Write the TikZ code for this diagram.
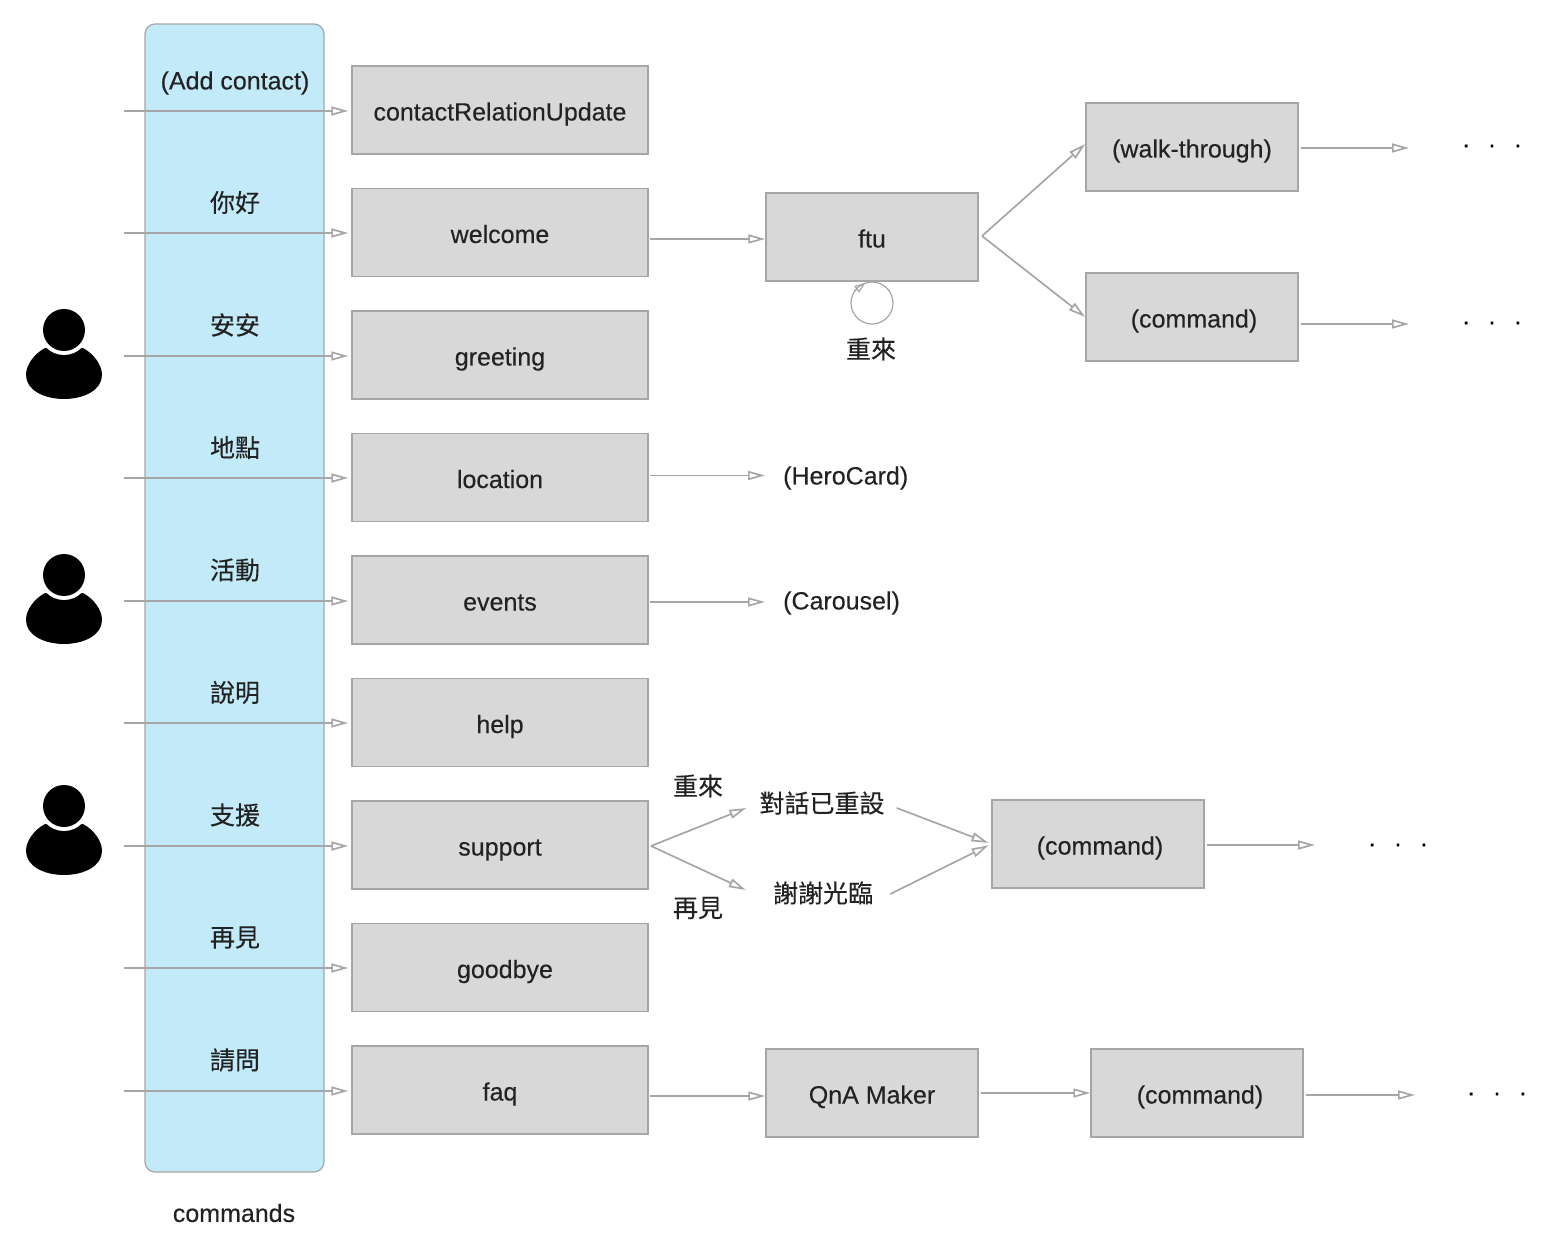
\documentclass[tikz,border=0pt]{standalone}
\usepackage{fontspec}
\setmainfont[FakeBold=0.25]{Liberation Sans}
\newfontfamily\cjk[FakeBold=0.2]{Noto Sans CJK TC}
\usepackage{tikz}
\usetikzlibrary{calc,positioning,arrows.meta}
\definecolor{linegray}{RGB}{166,166,166}
\definecolor{boxgray}{RGB}{216,216,216}
\definecolor{cmdblue}{RGB}{195,234,248}
\definecolor{textblack}{RGB}{34,34,34}

\begin{document}
\begin{tikzpicture}[x=1pt,y=-1pt,font=\fontsize{25}{30}\selectfont,text=textblack]
  \tikzset{
    stepbox/.style={rectangle,draw=linegray,fill=boxgray,line width=1.5pt,inner sep=0pt,
      minimum width=296pt,minimum height=88pt,text height=24pt,text depth=3pt},
    smallbox/.style={stepbox,minimum width=212pt},
    plain/.style={inner sep=0pt},
    cjklabel/.style={plain,font=\cjk\fontsize{25}{30}\selectfont},
    flow/.style={draw=linegray,line width=1.7pt,-{Triangle[open,length=17pt,width=9pt]}},
    dots/.style={plain,text=black},
    person/.pic={
      \fill[black] (-19,18) .. controls (-30,24) and (-38,35) .. (-38,45)
        .. controls (-38,60) and (-20,69) .. (0,69)
        .. controls (20,69) and (38,60) .. (38,45)
        .. controls (38,35) and (30,24) .. (19,18) -- cycle;
      \fill[white] (0,0) circle (25pt);
      \fill[black] (0,0) circle (21pt);
    },
  }
  \useasboundingbox (0,0) rectangle (1548,1238);

  % command column
  \node[rectangle,rounded corners=10pt,draw=linegray,fill=cmdblue,line width=1.2pt,
    minimum width=179pt,minimum height=1148pt,inner sep=0pt] (cmds) at (234.5,598) {};
  \node[plain] (cmdsname) at (234,1213) {commands};

  % one row per command
  \foreach \cmdtext/\nm/\nudge [count=\i from 0] in {
      {\rule{0pt}{24pt}(Add contact)}/contactRelationUpdate/0pt,
      {\cjk 你好}/welcome/0pt,
      {\cjk 安安}/greeting/0pt,
      {\cjk 地點}/location/0pt,
      {\cjk 活動}/events/0pt,
      {\cjk 說明}/help/0pt,
      {\cjk 支援}/support/0pt,
      {\cjk 再見}/goodbye/10pt,
      {\cjk 請問}/faq/0pt} {
    \pgfmathsetmacro{\rowy}{110+122.5*\i}
    \pgfmathsetmacro{\arrowy}{round(\rowy+0.6)}
    \node[stepbox] (\nm) at (500,\rowy) {\hspace*{\nudge}\nm};
    \node[plain] (cmd\i) at (235,\rowy-30) {\cmdtext};
    \coordinate (in\i) at (124,\arrowy);
    \draw[flow,shorten >=3pt] (in\i) -- (in\i -| \nm.west);
  }

  % users
  \pic at (64,330) {person};
  \pic at (64,575) {person};
  \pic at (64,806) {person};

  % welcome branch
  \node[smallbox] (ftu) at (872,237) {ftu};
  \node[smallbox] (walk) at (1192,147) {(walk-through)};
  \node[smallbox] (cmdA) at (1192,317) {\hspace*{4pt}(command)};
  \node[plain,circle,minimum size=42pt] (loop) at (872,303) {};
  \node[cjklabel] (again) at (871,349) {重來};
  \node[dots] (dotsA) at (1492,146) {.\hspace{19pt}.\hspace{19pt}.};
  \node[dots] (dotsB) at (1492,323) {.\hspace{19pt}.\hspace{19pt}.};
  \coordinate (fanA) at (982,236);
  \coordinate (walkend) at (1409,148);
  \coordinate (cmdAend) at (1409,324);

  \draw[flow,shorten <=1.5pt] ([yshift=-6.5pt]welcome.east) -- ([yshift=-2pt]ftu.west);
  \draw[flow] (fanA) -- ([yshift=3pt]walk.west);
  \draw[flow] (fanA) -- (cmdA.west);
  \draw[flow,shorten <=2pt] (walk.east |- walkend) -- (walkend);
  \draw[flow,shorten <=2pt] (cmdA.east |- cmdAend) -- (cmdAend);
  \draw[draw=linegray,line width=1.2pt] (loop) circle (21pt);
  \draw[flow,line width=1.2pt,-{Triangle[open,length=11pt,width=8pt]}] (loop.145) -- (loop.108);

  % location and events
  \node[plain,anchor=west] (hero) at (783,478) {(HeroCard)};
  \node[plain,anchor=west] (carousel) at (783,603) {(Carousel)};
  \draw[flow,shorten <=1.5pt,shorten >=18pt] ([yshift=2pt]location.east) -- ([yshift=2pt]location.east -| hero.west);
  \draw[flow,shorten <=1.5pt,shorten >=18pt] ([yshift=-2pt]events.east) -- ([yshift=-2pt]events.east -| carousel.west);

  % support branch
  \node[cjklabel] (resettext) at (822,803) {對話已重設};
  \node[cjklabel] (thanks) at (823,893) {謝謝光臨};
  \node[cjklabel] (againB) at (698,786) {重來};
  \node[cjklabel] (bye) at (698,908) {再見};
  \node[smallbox] (cmdB) at (1098,844) {\hspace*{4pt}(command)};
  \node[dots] (dotsC) at (1398,845) {.\hspace{19pt}.\hspace{19pt}.};
  \coordinate (fanB) at (651,846);
  \coordinate (cmdBend) at (1315,845);

  \draw[flow] (fanB) -- ([xshift=-13pt,yshift=-5pt]resettext.west);
  \draw[flow] (fanB) -- ([xshift=-27pt,yshift=3pt]thanks.west);
  \draw[flow,shorten >=3pt] ([xshift=12pt,yshift=-5pt]resettext.east) -- (cmdB.west);
  \draw[flow,shorten >=3pt] ([xshift=17pt,yshift=-1pt]thanks.east) -- (cmdB.west);
  \draw[flow,shorten <=2pt] (cmdB.east |- cmdBend) -- (cmdBend);

  % faq branch
  \node[smallbox] (qna) at (872,1093) {QnA Maker};
  \node[smallbox] (cmdC) at (1197,1093) {\hspace*{6pt}(command)};
  \node[dots] (dotsD) at (1497,1094) {.\hspace{19pt}.\hspace{19pt}.};
  \coordinate (cmdCend) at (1415,1095);

  \draw[flow,shorten <=1.5pt] ([yshift=-6pt]faq.east) -- ([yshift=-3pt]qna.west);
  \draw[flow,shorten <=2pt] (qna.east) -- (cmdC.west);
  \draw[flow,shorten <=2pt] (cmdC.east |- cmdCend) -- (cmdCend);
\end{tikzpicture}
\end{document}
